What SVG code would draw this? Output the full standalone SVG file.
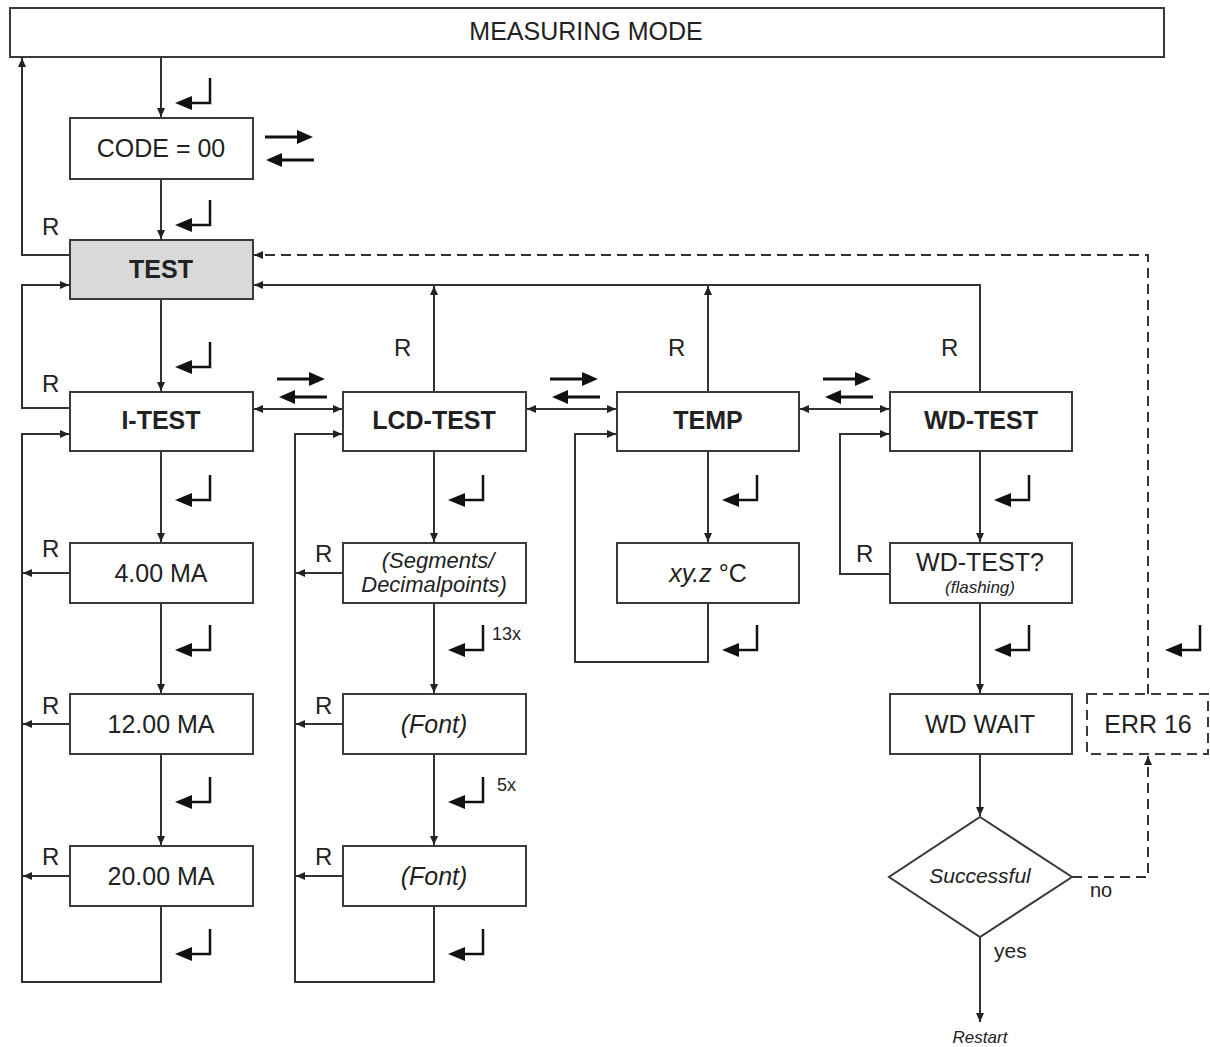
<svg xmlns="http://www.w3.org/2000/svg" xmlns:xlink="http://www.w3.org/1999/xlink" width="1210" height="1047" viewBox="0 0 1210 1047">
<style>
.box{fill:#fff;stroke:#3a3a3a;stroke-width:2}
.dbox{fill:#fff;stroke:#3a3a3a;stroke-width:2;stroke-dasharray:10 6}
.gray{fill:#d9d9d9}
.ln{fill:none;stroke:#333;stroke-width:2}
.dl{fill:none;stroke:#333;stroke-width:2;stroke-dasharray:10 6}
.t{font-family:"Liberation Sans",Arial,sans-serif;font-size:25px;fill:#222;text-anchor:middle;dominant-baseline:central}
.b{font-weight:bold}
.i{font-style:italic}
.s{font-family:"Liberation Sans",Arial,sans-serif;fill:#222}
</style>
<defs>
<marker id="ah" markerUnits="userSpaceOnUse" markerWidth="10" markerHeight="8" refX="9" refY="4" orient="auto-start-reverse"><path d="M0,0 L9,4 L0,8 z" fill="#222"/></marker>
<g id="enter"><path d="M35,0 V25 H15" fill="none" stroke="#111" stroke-width="2.5"/><polygon points="0,25 17,18 17,32" fill="#111"/></g>
<g id="arR"><line x1="0" y1="0" x2="34" y2="0" stroke="#111" stroke-width="3"/><polygon points="32,-7 48,0 32,7" fill="#111"/></g>
<g id="arL"><polygon points="0,0 16,-7 16,7" fill="#111"/><line x1="14" y1="0" x2="48" y2="0" stroke="#111" stroke-width="3"/></g>
</defs>

<g id="connectors">
<path class="ln" d="M161,57 V117" marker-end="url(#ah)"/>
<path class="ln" d="M161,179 V239" marker-end="url(#ah)"/>
<path class="ln" d="M70,255 H22 V58" marker-end="url(#ah)"/>
<path class="ln" d="M161,299 V391" marker-end="url(#ah)"/>
<path class="ln" d="M70,408 H22 V285 H69" marker-end="url(#ah)"/>
<path class="ln" d="M434,392 V286" marker-end="url(#ah)"/>
<path class="ln" d="M708,392 V286" marker-end="url(#ah)"/>
<path class="ln" d="M980,392 V285 H254" marker-end="url(#ah)"/>
<path class="dl" d="M1148,694 V255 H254" marker-end="url(#ah)"/>
<path class="ln" d="M254,409 H342" marker-start="url(#ah)" marker-end="url(#ah)"/>
<path class="ln" d="M527,409 H616" marker-start="url(#ah)" marker-end="url(#ah)"/>
<path class="ln" d="M800,409 H889" marker-start="url(#ah)" marker-end="url(#ah)"/>
<path class="ln" d="M161,451 V542" marker-end="url(#ah)"/>
<path class="ln" d="M161,603 V693" marker-end="url(#ah)"/>
<path class="ln" d="M161,754 V845" marker-end="url(#ah)"/>
<path class="ln" d="M161,906 V982 H22 V434 H69" marker-end="url(#ah)"/>
<path class="ln" d="M70,573 H23" marker-end="url(#ah)"/>
<path class="ln" d="M70,724 H23" marker-end="url(#ah)"/>
<path class="ln" d="M70,876 H23" marker-end="url(#ah)"/>
<path class="ln" d="M434,451 V542" marker-end="url(#ah)"/>
<path class="ln" d="M434,603 V693" marker-end="url(#ah)"/>
<path class="ln" d="M434,754 V845" marker-end="url(#ah)"/>
<path class="ln" d="M434,906 V982 H295 V434 H342" marker-end="url(#ah)"/>
<path class="ln" d="M343,573 H296" marker-end="url(#ah)"/>
<path class="ln" d="M343,724 H296" marker-end="url(#ah)"/>
<path class="ln" d="M343,876 H296" marker-end="url(#ah)"/>
<path class="ln" d="M708,451 V542" marker-end="url(#ah)"/>
<path class="ln" d="M708,603 V662 H575 V434 H616" marker-end="url(#ah)"/>
<path class="ln" d="M980,451 V542" marker-end="url(#ah)"/>
<path class="ln" d="M890,574 H840 V434 H889" marker-end="url(#ah)"/>
<path class="ln" d="M980,603 V693" marker-end="url(#ah)"/>
<path class="ln" d="M980,754 V816" marker-end="url(#ah)"/>
<path class="ln" d="M980,937 V1022" marker-end="url(#ah)"/>
<path class="dl" d="M1072,877 H1148 V756" marker-end="url(#ah)"/>
</g>

<g id="symbols">
<use xlink:href="#enter" x="175" y="78"/>
<use xlink:href="#enter" x="175" y="200"/>
<use xlink:href="#enter" x="175" y="342"/>
<use xlink:href="#enter" x="175" y="475"/>
<use xlink:href="#enter" x="175" y="625"/>
<use xlink:href="#enter" x="175" y="777"/>
<use xlink:href="#enter" x="175" y="929"/>
<use xlink:href="#enter" x="448" y="475"/>
<use xlink:href="#enter" x="448" y="625"/>
<use xlink:href="#enter" x="448" y="777"/>
<use xlink:href="#enter" x="448" y="929"/>
<use xlink:href="#enter" x="722" y="475"/>
<use xlink:href="#enter" x="722" y="625"/>
<use xlink:href="#enter" x="994" y="475"/>
<use xlink:href="#enter" x="994" y="625"/>
<use xlink:href="#enter" x="1165" y="625"/>
<use xlink:href="#arR" x="265" y="137"/>
<use xlink:href="#arL" x="266" y="160"/>
<use xlink:href="#arR" x="277" y="379"/>
<use xlink:href="#arL" x="279" y="397"/>
<use xlink:href="#arR" x="550" y="379"/>
<use xlink:href="#arL" x="552" y="397"/>
<use xlink:href="#arR" x="823" y="379"/>
<use xlink:href="#arL" x="825" y="397"/>
</g>

<g id="labels" class="s" font-size="24">
<text x="42" y="235">R</text>
<text x="42" y="392">R</text>
<text x="42" y="557">R</text>
<text x="42" y="714">R</text>
<text x="42" y="865">R</text>
<text x="315" y="562">R</text>
<text x="315" y="714">R</text>
<text x="315" y="865">R</text>
<text x="394" y="356">R</text>
<text x="668" y="356">R</text>
<text x="941" y="356">R</text>
<text x="856" y="562">R</text>
<text x="492" y="640" font-size="18">13x</text>
<text x="497" y="791" font-size="18">5x</text>
<text x="1090" y="897" font-size="20">no</text>
<text x="994" y="958" font-size="21">yes</text>
<text x="980" y="1043" font-size="17" font-style="italic" text-anchor="middle">Restart</text>
</g>

<g id="measuring-mode"><rect class="box" x="10" y="8" width="1154" height="49"/><text class="t" x="586" y="31">MEASURING MODE</text></g>
<g id="code"><rect class="box" x="70" y="118" width="183" height="61"/><text class="t" x="161" y="148">CODE = 00</text></g>
<g id="test"><rect class="box gray" x="70" y="240" width="183" height="59"/><text class="t b" x="161" y="269">TEST</text></g>
<g id="i-test"><rect class="box" x="70" y="392" width="183" height="59"/><text class="t b" x="161" y="420">I-TEST</text></g>
<g id="lcd-test"><rect class="box" x="343" y="392" width="183" height="59"/><text class="t b" x="434" y="420">LCD-TEST</text></g>
<g id="temp"><rect class="box" x="617" y="392" width="182" height="59"/><text class="t b" x="708" y="420">TEMP</text></g>
<g id="wd-test"><rect class="box" x="890" y="392" width="182" height="59"/><text class="t b" x="981" y="420">WD-TEST</text></g>
<g id="ma4"><rect class="box" x="70" y="543" width="183" height="60"/><text class="t" x="161" y="573">4.00 MA</text></g>
<g id="ma12"><rect class="box" x="70" y="694" width="183" height="60"/><text class="t" x="161" y="724">12.00 MA</text></g>
<g id="ma20"><rect class="box" x="70" y="846" width="183" height="60"/><text class="t" x="161" y="876">20.00 MA</text></g>
<g id="segments"><rect class="box" x="343" y="543" width="183" height="60"/><text class="t i" x="438" y="560" style="font-size:22px">(Segments/</text><text class="t i" x="434" y="584" style="font-size:22px">Decimalpoints)</text></g>
<g id="font1"><rect class="box" x="343" y="694" width="183" height="60"/><text class="t i" x="434" y="724">(Font)</text></g>
<g id="font2"><rect class="box" x="343" y="846" width="183" height="60"/><text class="t i" x="434" y="876">(Font)</text></g>
<g id="xyz"><rect class="box" x="617" y="543" width="182" height="60"/><text class="t" x="708" y="573"><tspan font-style="italic">xy.z</tspan> °C</text></g>
<g id="wd-test-q"><rect class="box" x="890" y="543" width="182" height="60"/><text class="t" x="980" y="562">WD-TEST?</text><text class="t i" x="980" y="587" style="font-size:17px">(flashing)</text></g>
<g id="wd-wait"><rect class="box" x="890" y="694" width="182" height="60"/><text class="t" x="980" y="724">WD WAIT</text></g>
<g id="err16"><rect class="dbox" x="1087" y="694" width="121" height="60"/><text class="t" x="1148" y="724">ERR 16</text></g>
<g id="successful"><polygon class="box" points="980,817 1072,877 980,937 889,877"/><text class="t i" x="980" y="875" style="font-size:21px">Successful</text></g>
</svg>
